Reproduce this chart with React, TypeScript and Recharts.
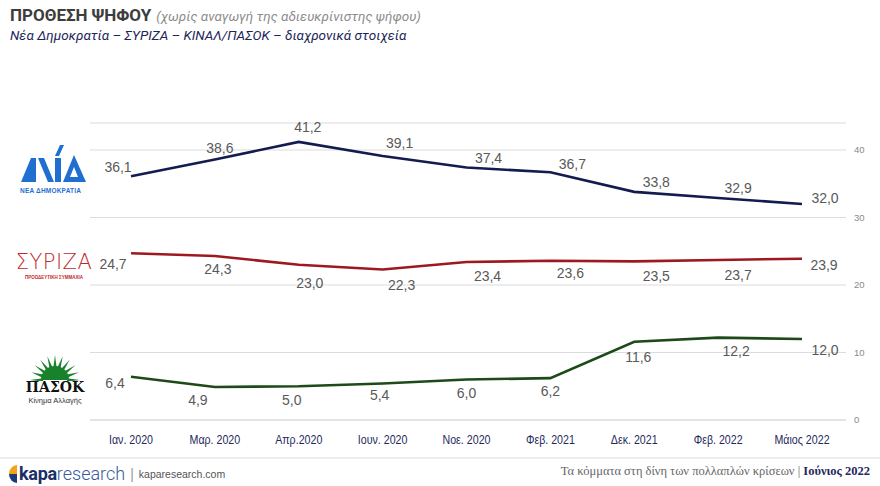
import { LineChart, Line, XAxis, YAxis, CartesianGrid, LabelList } from 'recharts'

const periods = ['Ιαν. 2020', 'Μαρ. 2020', 'Απρ.2020', 'Ιουν. 2020', 'Νοε. 2020', 'Φεβ. 2021', 'Δεκ. 2021', 'Φεβ. 2022', 'Μάιος 2022']
const nd = [36.1, 38.6, 41.2, 39.1, 37.4, 36.7, 33.8, 32.9, 32.0]
const syriza = [24.7, 24.3, 23.0, 22.3, 23.4, 23.6, 23.5, 23.7, 23.9]
const pasok = [6.4, 4.9, 5.0, 5.4, 6.0, 6.2, 11.6, 12.2, 12.0]
const yTicks = [0, 10, 20, 30, 40]

const chartData = periods.map((p, i) => ({ period: p, nd: nd[i], syriza: syriza[i], pasok: pasok[i] }))

const COLORS = {
  nd: '#131b4f',
  syriza: '#9c1a1f',
  pasok: '#1d4a18',
  ndLogo: '#1f6fd1',
  grid: '#dcdcdc',
  value: '#595959',
}

// where each value label sits relative to its point
const LABEL_SHIFT = {
  nd: { dx: [-13, 5, 9, 17, 22, 22, 22, 20, 23], dy: [-9, -11, -15, -13, -10, -8, -10, -10, -6] },
  syriza: { dx: [-18, 3, 11, 19, 21, 20, 22, 20, 22], dy: [11, 13, 18, 16, 14, 12, 15, 15, 6] },
  pasok: { dx: [-16, -17, -7, -3, 0, 0, 4, 18, 23], dy: [6, 13, 14, 11, 13, 13, 15, 13, 11] },
}

const fmt = (v: number) => v.toFixed(1).replace('.', ',')

function makeLabel(key: 'nd' | 'syriza' | 'pasok') {
  return (props: any) => {
    const { x, y, value, index } = props
    const s = LABEL_SHIFT[key]
    return (
      <text
        x={x + s.dx[index]}
        y={y + s.dy[index]}
        textAnchor="middle"
        dominantBaseline="central"
        fontSize={14}
        fontFamily="Arial, 'Liberation Sans', sans-serif"
        fill={COLORS.value}
      >
        {fmt(value)}
      </text>
    )
  }
}

// condensed month labels
function PeriodTick(props: any) {
  const { x, y, payload } = props
  return (
    <g transform={`translate(${x},${y + 12}) scale(0.82,1)`}>
      <text textAnchor="middle" dominantBaseline="central" fontSize={13} fill="#1f2a5c" fontFamily="Arial, 'Liberation Sans', sans-serif">
        {payload.value}
      </text>
    </g>
  )
}

function NdLogo() {
  const c = COLORS.ndLogo
  return (
    <div style={{ position: 'absolute', left: 20, top: 144, width: 72 }}>
      <svg width={68} height={40} viewBox="0 0 68 40">
        <polygon points="1,38 11,14 16,14 16,38" fill={c} />
        <polygon points="18,14 24,14 34,38 28,38" fill={c} />
        <polygon points="35,14 41,14 41,38 35,38" fill={c} />
        <polygon points="35,12 40,1 44,1 39,12" fill={c} />
        <polygon points="43,38 54,11 66,38" fill={c} />
        <polygon points="50,33 54,23 58,33" fill="#fff" />
      </svg>
      <div style={{ fontFamily: 'Arial, sans-serif', fontWeight: 700, fontSize: 6.5, color: c, marginTop: -1, letterSpacing: 0.2 }}>
        ΝΕΑ ΔΗΜΟΚΡΑΤΙΑ
      </div>
    </div>
  )
}

function SyrizaLogo() {
  const c = '#c0272d'
  return (
    <div style={{ position: 'absolute', left: 13, top: 250, width: 82, textAlign: 'center' }}>
      <div style={{ fontFamily: "'DejaVu Sans', sans-serif", fontWeight: 200, fontSize: 21, color: c, lineHeight: '24px', letterSpacing: 0.5 }}>
        ΣΥΡΙΖΑ
      </div>
      <div style={{ fontFamily: 'Arial, sans-serif', fontSize: 4.5, color: c, marginTop: 1, fontWeight: 700 }}>
        ΠΡΟΟΔΕΥΤΙΚΗ ΣΥΜΜΑΧΙΑ
      </div>
    </div>
  )
}

function PasokLogo() {
  const g = '#17812b'
  const rays: string[] = []
  const cx = 28
  const cy = 25
  for (let i = 0; i <= 10; i++) {
    const a = Math.PI - (i * Math.PI) / 10
    const a1 = a - 0.14
    const a2 = a + 0.14
    rays.push(
      `${cx + 12 * Math.cos(a1)},${cy - 12 * Math.sin(a1)} ${cx + 25 * Math.cos(a)},${cy - 25 * Math.sin(a)} ${cx + 12 * Math.cos(a2)},${cy - 12 * Math.sin(a2)}`
    )
  }
  return (
    <div style={{ position: 'absolute', left: 22, top: 355, width: 66, textAlign: 'center' }}>
      <svg width={56} height={26} viewBox="0 0 56 26" style={{ display: 'block', margin: '0 auto' }}>
        {rays.map((r, i) => (
          <polygon key={i} points={r} fill={g} />
        ))}
        <path d={`M ${cx - 14} ${cy} A 14 14 0 0 1 ${cx + 14} ${cy} Z`} fill={g} />
      </svg>
      <div style={{ fontFamily: "'DejaVu Serif', serif", fontWeight: 700, fontSize: 14, color: '#111', lineHeight: '15px', marginTop: -1 }}>
        ΠΑΣΟΚ
      </div>
      <div style={{ fontFamily: 'Arial, sans-serif', fontSize: 7.5, color: '#333', marginTop: 1 }}>Κίνημα Αλλαγής</div>
    </div>
  )
}

export default function App() {
  return (
    <div style={{ position: 'absolute', left: 0, top: 0, width: 880, height: 486, background: '#fff', overflow: 'hidden' }}>
      {/* Title block */}
      <div style={{ position: 'absolute', left: 10, top: 5, fontFamily: "Roboto, Arial, sans-serif", whiteSpace: 'nowrap' }}>
        <div style={{ lineHeight: '20px' }}>
          <span style={{ fontWeight: 700, fontSize: 17, color: '#3d3d3d' }}>ΠΡΟΘΕΣΗ ΨΗΦΟΥ</span>
          <span style={{ fontStyle: 'italic', fontSize: 13.5, color: '#8c8c8c', marginLeft: 5 }}>
            (χωρίς αναγωγή της αδιευκρίνιστης ψήφου)
          </span>
        </div>
        <div style={{ fontStyle: 'italic', fontSize: 13.5, color: '#1c2559', lineHeight: '18px' }}>
          Νέα Δημοκρατία – ΣΥΡΙΖΑ – ΚΙΝΑΛ/ΠΑΣΟΚ – διαχρονικά στοιχεία
        </div>
      </div>

      <NdLogo />
      <SyrizaLogo />
      <PasokLogo />

      <div style={{ position: 'absolute', left: 0, top: 0 }}>
        <LineChart width={880} height={486} data={chartData} margin={{ top: 123, right: 4, bottom: 36, left: 90 }}>
          <CartesianGrid horizontal vertical={false} stroke={COLORS.grid} strokeWidth={1.2} />
          <XAxis
            dataKey="period"
            padding={{ left: 41, right: 44 }}
            axisLine={{ stroke: COLORS.grid, strokeWidth: 1.2 }}
            tickLine={false}
            height={30}
            tick={<PeriodTick />}
            interval={0}
          />
          <YAxis
            orientation="right"
            domain={[0, 44]}
            ticks={yTicks}
            width={30}
            axisLine={false}
            tickLine={false}
            tickMargin={2}
            tick={{ fontSize: 9.5, fill: '#8a8a8a', fontFamily: 'Arial, sans-serif' }}
          />
          <Line dataKey="nd" stroke={COLORS.nd} strokeWidth={2.6} dot={false} isAnimationActive={false}>
            <LabelList dataKey="nd" content={makeLabel('nd')} />
          </Line>
          <Line dataKey="syriza" stroke={COLORS.syriza} strokeWidth={2.6} dot={false} isAnimationActive={false}>
            <LabelList dataKey="syriza" content={makeLabel('syriza')} />
          </Line>
          <Line dataKey="pasok" stroke={COLORS.pasok} strokeWidth={2.6} dot={false} isAnimationActive={false}>
            <LabelList dataKey="pasok" content={makeLabel('pasok')} />
          </Line>
        </LineChart>
      </div>

      {/* Footer */}
      <div style={{ position: 'absolute', left: 0, top: 457, width: 880, height: 2, background: '#ececec' }} />
      <div style={{ position: 'absolute', left: 9, top: 463, display: 'flex', alignItems: 'center', whiteSpace: 'nowrap' }}>
        <svg width={8} height={18} viewBox="0 0 8 18">
          <path d="M 8 0 A 8 9 0 0 0 0 9 L 8 9 Z" fill="#f2a319" />
          <path d="M 0 9 A 8 9 0 0 0 8 18 L 8 9 Z" fill="#1b3a7a" />
        </svg>
        <span style={{ fontFamily: "Roboto, Arial, sans-serif", fontSize: 18, fontWeight: 700, color: '#1b2f66', marginLeft: 2, letterSpacing: -0.3 }}>
          kapa
        </span>
        <span style={{ fontFamily: "Roboto, Arial, sans-serif", fontSize: 18, fontWeight: 300, color: '#3a5a99' }}>research</span>
        <span style={{ color: '#999', fontSize: 14, margin: '0 5px', fontFamily: 'Arial' }}>|</span>
        <span style={{ fontFamily: "Arial, sans-serif", fontSize: 10.5, color: '#555' }}>kaparesearch.com</span>
      </div>
      <div
        style={{
          position: 'absolute',
          right: 10,
          top: 464,
          fontFamily: "'Liberation Serif', 'DejaVu Serif', serif",
          fontSize: 12.5,
          color: '#666',
          whiteSpace: 'nowrap',
        }}
      >
        Τα κόμματα στη δίνη των πολλαπλών κρίσεων | <span style={{ fontWeight: 700, color: '#1f2a5c' }}>Ιούνιος 2022</span>
      </div>
    </div>
  )
}
